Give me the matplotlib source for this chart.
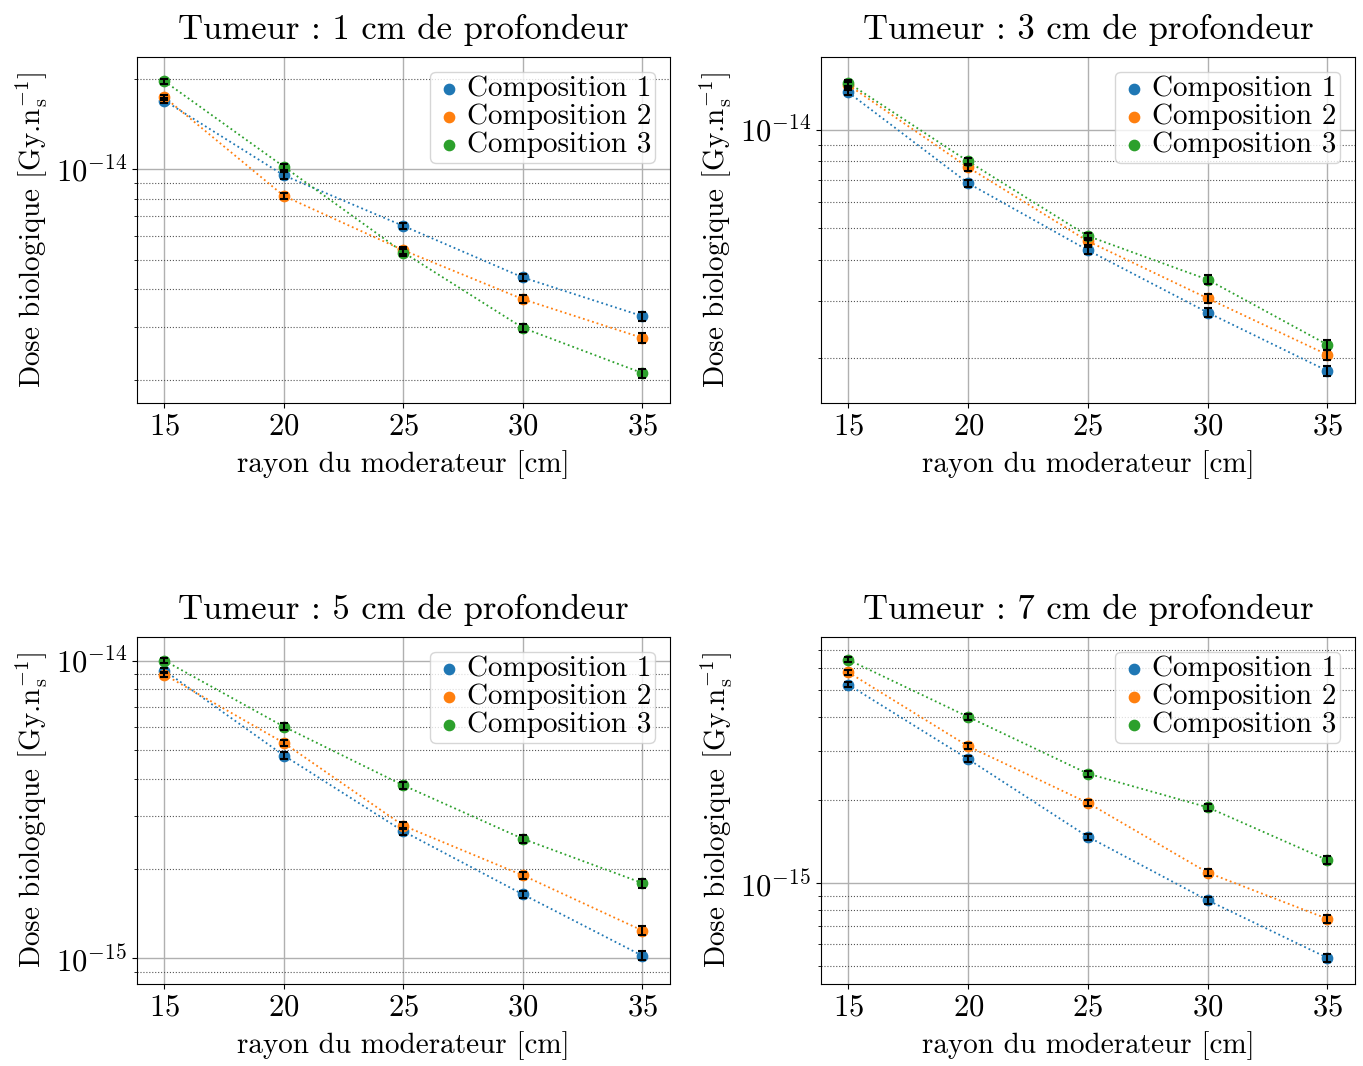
# Dose biologique vs rayon du moderateur, 4 profondeurs de tumeur
import numpy as np
import matplotlib
matplotlib.use("Agg")
import matplotlib.pyplot as plt
from matplotlib.ticker import LogLocator

plt.rcParams['font.family'] = 'serif'
plt.rcParams['font.serif'] = ['cmr10']
plt.rcParams['mathtext.fontset'] = 'cm'
plt.rcParams['axes.formatter.use_mathtext'] = True
plt.rcParams['font.size'] = 21

# rayon du moderateur [cm]
rayons = [15, 20, 25, 30, 35]
profondeurs = [1, 3, 5, 7]
compositions = ['Composition 1', 'Composition 2', 'Composition 3']
couleurs = ['tab:blue', 'tab:orange', 'tab:green']

# dose [Gy.ns^-1] par profondeur, une liste par composition
dose_1cm = [
    [1.69e-14, 9.55e-15, 6.49e-15, 4.38e-15, 3.26e-15],
    [1.735e-14, 8.16e-15, 5.39e-15, 3.71e-15, 2.76e-15],
    [1.96e-14, 1.02e-14, 5.30e-15, 2.98e-15, 2.11e-15],
]
dose_3cm = [
    [1.30e-14, 6.86e-15, 4.28e-15, 2.76e-15, 1.83e-15],
    [1.37e-14, 7.67e-15, 4.56e-15, 3.05e-15, 2.05e-15],
    [1.39e-14, 8.00e-15, 4.73e-15, 3.48e-15, 2.20e-15],
]
dose_5cm = [
    [9.26e-15, 4.80e-15, 2.67e-15, 1.64e-15, 1.02e-15],
    [8.97e-15, 5.29e-15, 2.79e-15, 1.90e-15, 1.24e-15],
    [1.00e-14, 6.00e-15, 3.81e-15, 2.52e-15, 1.79e-15],
]
dose_7cm = [
    [5.23e-15, 2.81e-15, 1.47e-15, 8.65e-16, 5.35e-16],
    [5.80e-15, 3.13e-15, 1.95e-15, 1.09e-15, 7.41e-16],
    [6.44e-15, 4.00e-15, 2.49e-15, 1.88e-15, 1.21e-15],
]
doses = [dose_1cm, dose_3cm, dose_5cm, dose_7cm]

# incertitude relative (approx.)
err_rel = [0.02, 0.025, 0.025, 0.03, 0.035]

ylims = [(1.68e-15, 2.36e-14), (1.46e-15, 1.67e-14),
         (8.2e-16, 1.20e-14), (4.3e-16, 7.79e-15)]

fig = plt.figure(figsize=(13.63, 10.66), dpi=100)
positions = [
    [0.1005, 0.622, 0.391, 0.3246],
    [0.6023, 0.622, 0.3918, 0.3246],
    [0.1005, 0.0769, 0.391, 0.3255],
    [0.6023, 0.0769, 0.3918, 0.3255],
]

for k, prof in enumerate(profondeurs):
    ax = fig.add_axes(positions[k])
    for j in range(3):
        y = np.array(doses[k][j])
        yerr = y * np.array(err_rel)
        ax.plot(rayons, y, linestyle=':', color=couleurs[j], linewidth=1.3)
        ax.scatter(rayons, y, s=55, color=couleurs[j], label=compositions[j], zorder=3)
        ax.errorbar(rayons, y, yerr=yerr, fmt='none', ecolor='black',
                    capsize=3, elinewidth=1.5, capthick=1.5, zorder=4)
    ax.set_yscale('log')
    ax.set_ylim(*ylims[k])
    ax.set_xlim(13.85, 36.15)
    ax.set_xticks(rayons)
    ax.yaxis.set_minor_locator(LogLocator(base=10, subs=np.arange(2, 10)))
    ax.tick_params(labelsize=22)
    ax.grid(True, which='major', color='#b0b0b0', linewidth=1)
    ax.grid(True, which='minor', axis='y', color='#555555', linestyle=':', linewidth=0.8)
    ax.set_axisbelow(True)
    ax.set_title(f'Tumeur : {prof} cm de profondeur', fontsize=25, pad=13)
    ax.set_xlabel('rayon du moderateur [cm]', labelpad=7)
    ax.set_ylabel(r'Dose biologique [Gy.n$_\mathrm{s}^{-1}$]')
    ax.legend(loc='upper right', handletextpad=0.1, borderpad=0.15,
              labelspacing=0.05, handlelength=1.0, borderaxespad=0.5)

fig.savefig('out.png', dpi=100)
